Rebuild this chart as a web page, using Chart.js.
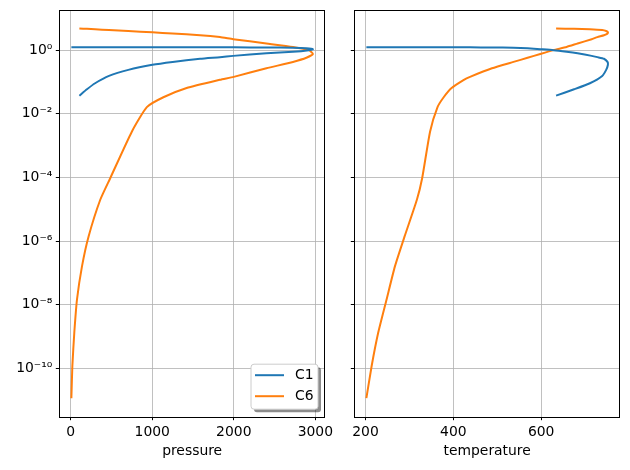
<!DOCTYPE html>
<html>
<head>
<meta charset="utf-8">
<script src="https://cdn.jsdelivr.net/npm/chart.js@4.4.1/dist/chart.umd.min.js"></script>
<style>
  body { margin: 0; background: #fff; }
  #wrap { position: relative; width: 630px; height: 470px; }
  canvas { position: absolute; top: 0; }
  #left { left: 0; }
  #right { left: 335px; }
</style>
</head>
<body>
<div id="wrap">
  <canvas id="left" width="335" height="470"></canvas>
  <canvas id="right" width="295" height="470"></canvas>
</div>
<script>
const seriesNames = ['C1', 'C6'];
const seriesColors = ['#1f77b4', '#ff7f0e'];

// points along the envelope, low temperature end first
const pressure = [9, 21, 45, 78, 139, 220, 363, 485, 750, 934, 1137, 1422, 1830, 2000, 2400, 2725, 2890, 2970,
  2920, 2725, 2400, 1992, 1830, 1587, 1250, 1002, 707, 470, 300, 200, 107];
const temperature = [202, 214, 229, 248, 267, 289, 317, 329, 347, 364, 378, 396, 424, 438, 488, 537, 569, 598,
  628, 658, 683, 715, 728, 743, 751, 752, 748, 739, 711, 675, 634];
const kC1 = [1.236, 1.236, 1.236, 1.236, 1.236, 1.236, 1.236, 1.236, 1.236, 1.236, 1.236, 1.233, 1.227, 1.225,
  1.216, 1.189, 1.143, 1.072, 1.0, 0.891, 0.794, 0.661, 0.603, 0.537, 0.427, 0.347, 0.240, 0.155, 0.0912,
  0.0589, 0.0372];
const kC6 = [1.17e-11, 1.2e-10, 1.35e-9, 1.48e-8, 1.62e-7, 1.41e-6, 2.0e-5, 9.5e-5, 2.75e-3, 1.62e-2, 3.31e-2,
  6.46e-2, 0.117, 0.145, 0.269, 0.427, 0.575, 0.759, 1.0, 1.26, 1.62, 2.21, 2.57, 2.95, 3.31, 3.63, 3.98,
  4.27, 4.52, 4.66, 4.79];

const pressureTicks = [0, 1000, 2000, 3000];
const temperatureTicks = [200, 400, 600];
const kTicks = [1e-10, 1e-8, 1e-6, 1e-4, 1e-2, 1];

const font = { family: 'DejaVu Sans', size: 13.9 };
const sup = { '0': '⁰', '1': '¹', '2': '²', '3': '³', '4': '⁴', '5': '⁵', '6': '⁶', '7': '⁷', '8': '⁸', '9': '⁹', '-': '⁻' };

function powerLabel(v) {
  const e = Math.round(Math.log10(v));
  return '10' + String(e).split('').map(c => sup[c]).join('');
}

function padRange(vals) {
  const lo = Math.min(...vals), hi = Math.max(...vals);
  const m = (hi - lo) * 0.05;
  return [lo - m, hi + m];
}

function padLogRange(vals) {
  const r = padRange(vals.map(v => Math.log10(v)));
  return [Math.pow(10, r[0]), Math.pow(10, r[1])];
}

function pairs(xs, ys) {
  return xs.map((x, i) => ({ x: x, y: ys[i] }));
}

const yRange = padLogRange(kC1.concat(kC6));

// matplotlib-style box round the axes
const frame = {
  id: 'frame',
  afterDatasetsDraw(chart) {
    const a = chart.chartArea, ctx = chart.ctx;
    ctx.save();
    ctx.strokeStyle = '#000';
    ctx.lineWidth = 1;
    ctx.strokeRect(Math.round(a.left) + 0.5, Math.round(a.top) + 0.5,
      Math.round(a.right - a.left) - 1, Math.round(a.bottom - a.top));
    ctx.restore();
  }
};

const legendBox = {
  id: 'legendBox',
  afterDraw(chart) {
    const a = chart.chartArea, ctx = chart.ctx;
    const w = 67, h = 45;
    const x = a.right - 7 - w, y = a.bottom - 7.5 - h;
    ctx.save();
    ctx.fillStyle = 'rgba(0,0,0,0.45)';
    ctx.beginPath();
    ctx.roundRect(x + 3, y + 3, w, h, 3);
    ctx.fill();
    ctx.fillStyle = '#fff';
    ctx.strokeStyle = '#cccccc';
    ctx.lineWidth = 1;
    ctx.beginPath();
    ctx.roundRect(x, y, w, h, 3);
    ctx.fill();
    ctx.stroke();
    ctx.font = font.size + 'px ' + font.family;
    ctx.textBaseline = 'middle';
    chart.data.datasets.forEach((ds, i) => {
      const ly = y + 11 + i * 21;
      ctx.strokeStyle = ds.borderColor;
      ctx.lineWidth = 2;
      ctx.beginPath();
      ctx.moveTo(x + 4, ly);
      ctx.lineTo(x + 33, ly);
      ctx.stroke();
      ctx.fillStyle = '#000';
      ctx.fillText(ds.label, x + 44, ly);
    });
    ctx.restore();
  }
};

function makeOptions(xTitle, xTicks, xRange, yWidth, showYLabels) {
  const grid = { color: '#b0b0b0', lineWidth: 0.8, tickColor: '#000', tickWidth: 1, tickLength: 3.5 };
  return {
    responsive: false,
    animation: false,
    devicePixelRatio: 1,
    layout: { padding: { top: 10, right: 10, left: 0, bottom: 0 } },
    plugins: { legend: { display: false }, tooltip: { enabled: false } },
    elements: { point: { radius: 0 }, line: { borderWidth: 2, tension: 0.18 } },
    scales: {
      x: {
        type: 'linear',
        min: xRange[0],
        max: xRange[1],
        afterBuildTicks: s => { s.ticks = xTicks.map(v => ({ value: v })); },
        afterFit: s => { s.height = 53.3; s.paddingLeft = 0; s.paddingRight = 0; },
        grid: grid,
        border: { display: false },
        ticks: { color: '#000', font: font, padding: 3.5, maxRotation: 0, autoSkip: false, callback: v => String(v) },
        title: { display: true, text: xTitle, color: '#000', font: font, padding: { top: 0, bottom: 10 } }
      },
      y: {
        type: 'logarithmic',
        min: yRange[0],
        max: yRange[1],
        afterBuildTicks: s => { s.ticks = kTicks.map(v => ({ value: v })); },
        afterFit: s => { s.width = yWidth; s.paddingTop = 0; s.paddingBottom = 0; },
        grid: grid,
        border: { display: false },
        ticks: { display: showYLabels, color: '#000', font: font, padding: 3.5, autoSkip: false, callback: v => powerLabel(v) }
      }
    }
  };
}

function makeDatasets(xs) {
  return [kC1, kC6].map((ks, i) => ({
    label: seriesNames[i],
    data: pairs(xs, ks),
    borderColor: seriesColors[i],
    backgroundColor: seriesColors[i],
    fill: false
  }));
}

new Chart(document.getElementById('left').getContext('2d'), {
  type: 'line',
  data: { datasets: makeDatasets(pressure) },
  options: makeOptions('pressure', pressureTicks, padRange(pressure), 59.3, true),
  plugins: [frame, legendBox]
});

new Chart(document.getElementById('right').getContext('2d'), {
  type: 'line',
  data: { datasets: makeDatasets(temperature) },
  options: makeOptions('temperature', temperatureTicks, padRange(temperature), 19.3, false),
  plugins: [frame]
});
</script>
</body>
</html>
